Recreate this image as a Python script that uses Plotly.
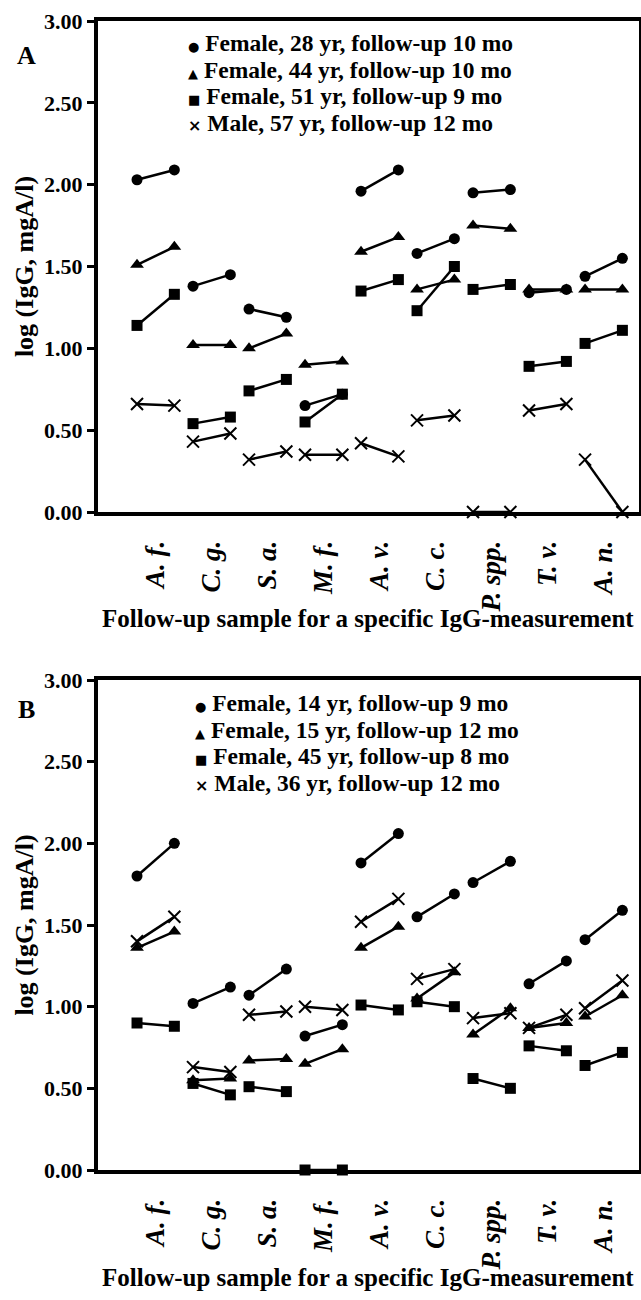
import plotly.graph_objects as go

# ---------------- data ----------------
categories = ["A. f.", "C. g.", "S. a.", "M. f.", "A. v.", "C. c.", "P. spp.", "T. v.", "A. n."]
y_ticks = [0, 0.5, 1.0, 1.5, 2.0, 2.5, 3.0]
x_title = "Follow-up sample for a specific IgG-measurement"
y_title = "log (IgG, mgA/l)"

# Panel A (first sample, follow-up sample)
A_names = ["Female, 28 yr, follow-up 10 mo", "Female, 44 yr, follow-up 10 mo",
           "Female, 51 yr, follow-up 9 mo", "Male, 57 yr, follow-up 12 mo"]
A_f28_first = [2.03, 1.38, 1.24, 0.65, 1.96, 1.58, 1.95, 1.34, 1.44]
A_f28_follow = [2.09, 1.45, 1.19, 0.72, 2.09, 1.67, 1.97, 1.36, 1.55]
A_f44_first = [1.51, 1.02, 1.00, 0.90, 1.59, 1.36, 1.75, 1.36, 1.36]
A_f44_follow = [1.62, 1.02, 1.09, 0.92, 1.68, 1.42, 1.73, 1.36, 1.36]
A_f51_first = [1.14, 0.54, 0.74, 0.55, 1.35, 1.23, 1.36, 0.89, 1.03]
A_f51_follow = [1.33, 0.58, 0.81, 0.72, 1.42, 1.50, 1.39, 0.92, 1.11]
A_m57_first = [0.66, 0.43, 0.32, 0.35, 0.42, 0.56, 0.00, 0.62, 0.32]
A_m57_follow = [0.65, 0.48, 0.37, 0.35, 0.34, 0.59, 0.00, 0.66, 0.00]

# Panel B
B_names = ["Female, 14 yr, follow-up 9 mo", "Female, 15 yr, follow-up 12 mo",
           "Female, 45 yr, follow-up 8 mo", "Male, 36 yr, follow-up 12 mo"]
B_f14_first = [1.80, 1.02, 1.07, 0.82, 1.88, 1.55, 1.76, 1.14, 1.41]
B_f14_follow = [2.00, 1.12, 1.23, 0.89, 2.06, 1.69, 1.89, 1.28, 1.59]
B_f15_first = [1.36, 0.55, 0.67, 0.65, 1.36, 1.05, 0.83, 0.87, 0.94]
B_f15_follow = [1.46, 0.56, 0.68, 0.74, 1.49, 1.21, 0.99, 0.90, 1.07]
B_f45_first = [0.90, 0.53, 0.51, 0.00, 1.01, 1.03, 0.56, 0.76, 0.64]
B_f45_follow = [0.88, 0.46, 0.48, 0.00, 0.98, 1.00, 0.50, 0.73, 0.72]
B_m36_first = [1.40, 0.63, 0.95, 1.00, 1.52, 1.17, 0.93, 0.87, 0.99]
B_m36_follow = [1.55, 0.60, 0.97, 0.98, 1.66, 1.23, 0.96, 0.95, 1.16]

# ---------------- styling ----------------
FONT = "Liberation Serif"
symbols = ["circle", "triangle-up", "square", "x-thin-open"]
sizes = [11, 12, 11, 12]
legend_glyphs = ["●", "▲", "■", "×"]

W, H = 641, 1300
STEP = 3          # category spacing in axis units
OFFSET = 2        # follow-up sample offset within a category


def pair_xy(first, follow):
    xs, ys = [], []
    for i, (a, b) in enumerate(zip(first, follow)):
        xs += [i * STEP, i * STEP + OFFSET, None]
        ys += [a, b, None]
    return xs, ys


fig = go.Figure()

panels = [
    ("x", "y", A_names, [(A_f28_first, A_f28_follow), (A_f44_first, A_f44_follow),
                         (A_f51_first, A_f51_follow), (A_m57_first, A_m57_follow)]),
    ("x2", "y2", B_names, [(B_f14_first, B_f14_follow), (B_f15_first, B_f15_follow),
                           (B_f45_first, B_f45_follow), (B_m36_first, B_m36_follow)]),
]

for xa, ya, names, series in panels:
    for k, (first, follow) in enumerate(series):
        xs, ys = pair_xy(first, follow)
        is_x = symbols[k].startswith("x")
        fig.add_trace(go.Scatter(
            x=xs, y=ys, xaxis=xa, yaxis=ya, mode="lines+markers",
            name=names[k], showlegend=False, cliponaxis=False,
            line=dict(color="black", width=2.5),
            marker=dict(symbol=symbols[k], size=sizes[k], color="black",
                        line=dict(color="black", width=2 if is_x else 0)),
        ))

# plot area in pixels
L, R, T, B = 98, 2, 21, 130
plot_w = W - L - R
plot_h = H - T - B


def px2x(px):
    return (px - L) / plot_w


def py2y(py):
    return (H - B - py) / plot_h


xrange = [-2.09, 26.89]
tickvals = [i * STEP + OFFSET / 2 for i in range(len(categories))]

xaxis_common = dict(
    range=xrange, tickmode="array", tickvals=tickvals, ticktext=categories,
    tickangle=-90, ticks="outside", ticklen=14, tickcolor="rgba(0,0,0,0)",
    tickfont=dict(family=FONT, size=27, color="black", weight="bold", style="italic"),
    showline=True, mirror=True, linewidth=4, linecolor="black",
    showgrid=False, zeroline=False, automargin=False,
)
yaxis_common = dict(
    range=[0, 3], tickmode="array", tickvals=y_ticks, tickformat=".2f",
    ticks="outside", ticklen=7, tickwidth=3, tickcolor="black",
    tickfont=dict(family=FONT, size=22, color="black", weight="bold"),
    showline=True, mirror=True, linewidth=4, linecolor="black",
    showgrid=False, zeroline=False, automargin=False,
    title=dict(text=y_title,
               font=dict(family=FONT, size=26, color="black", weight="bold"), standoff=4),
)

fig.update_layout(
    width=W, height=H,
    margin=dict(l=L, r=R, t=T, b=B),
    paper_bgcolor="white", plot_bgcolor="white",
    showlegend=False,
    xaxis=dict(domain=[0, 1], anchor="y", **xaxis_common),
    yaxis=dict(domain=[py2y(512), 1], anchor="x", **yaxis_common),
    xaxis2=dict(domain=[0, 1], anchor="y2", **xaxis_common),
    yaxis2=dict(domain=[0, py2y(680)], anchor="x2", **yaxis_common),
)

annotations = []
# x-axis titles
for py in [618, 1277]:
    annotations.append(dict(text=x_title, x=px2x(368), y=py2y(py), xref="paper", yref="paper",
                            xanchor="center", yanchor="middle", showarrow=False,
                            font=dict(family=FONT, size=25, color="black", weight="bold")))
# panel letters
for letter, py in [("A", 56), ("B", 710)]:
    annotations.append(dict(text=letter, x=px2x(26), y=py2y(py), xref="paper", yref="paper",
                            xanchor="center", yanchor="middle", showarrow=False,
                            font=dict(family=FONT, size=26, color="black", weight="bold")))
# legend text (real text with symbol glyphs)
LEG_GAP = 26.6
legend_layout = [(A_names, 186, 43), (B_names, 193, 703)]
for names, px, py0 in legend_layout:
    for k, nm in enumerate(names):
        py = py0 + k * LEG_GAP
        glyph_size = 16 if legend_glyphs[k] == "×" else 13
        txt = (f'<span style="font-family:DejaVu Sans;font-size:{glyph_size}px">{legend_glyphs[k]}</span>'
               f' {nm}')
        annotations.append(dict(text=txt, x=px2x(px), y=py2y(py), xref="paper", yref="paper",
                                xanchor="left", yanchor="middle", showarrow=False,
                                font=dict(family=FONT, size=23.5, color="black", weight="bold")))
fig.update_layout(annotations=annotations)

fig.write_html("out.html", config={"displayModeBar": False},
               post_script="document.body.style.margin='0';")
